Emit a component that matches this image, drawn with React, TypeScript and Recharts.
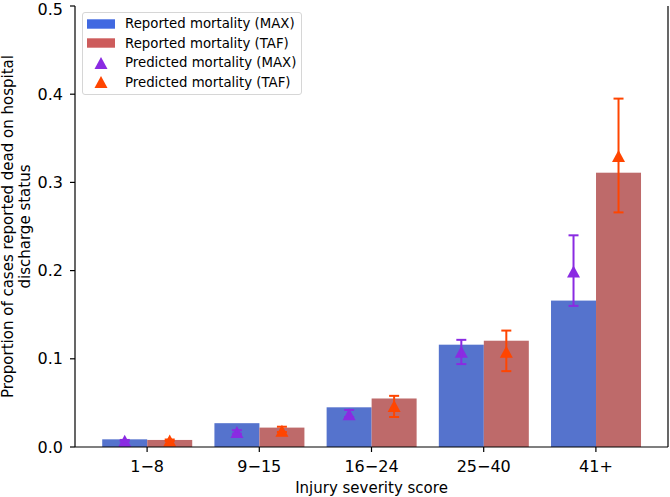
import React from 'react';
import { ComposedChart, Bar, XAxis, YAxis, ErrorBar, Legend } from 'recharts';

const categories = ['1\u22128', '9\u221215', '16\u221224', '25\u221240', '41+'];
const reportedMax = [0.0087, 0.027, 0.045, 0.116, 0.166];
const reportedTaf = [0.008, 0.022, 0.055, 0.1205, 0.311];
const predictedMax = [0.0072, 0.017, 0.037, 0.108, 0.199];
const predictedMaxLow = [0.0065, 0.015, 0.034, 0.094, 0.160];
const predictedMaxHigh = [0.008, 0.019, 0.042, 0.1215, 0.240];
const predictedTaf = [0.0075, 0.0185, 0.0465, 0.108, 0.330];
const predictedTafLow = [0.0068, 0.017, 0.034, 0.086, 0.266];
const predictedTafHigh = [0.0085, 0.023, 0.058, 0.132, 0.395];
const yTicks = [0, 0.1, 0.2, 0.3, 0.4, 0.5];
const legendLabels = [
  'Reported mortality (MAX)',
  'Reported mortality (TAF)',
  'Predicted mortality (MAX)',
  'Predicted mortality (TAF)',
];

const FONT = '"DejaVu Sans", sans-serif';
const BLUE_BAR = '#5573cd';
const RED_BAR = '#be6a6a';
const BLUE_LEG = '#4169e1';
const RED_LEG = '#cd5c5c';
const PURPLE = '#8a2be2';
const ORANGE = '#ff4500';

const data = categories.map((c, i) => ({
  cat: c,
  repMax: reportedMax[i],
  repTaf: reportedTaf[i],
  predMax: predictedMax[i],
  predTaf: predictedTaf[i],
  errMax: [reportedMax[i] - predictedMaxLow[i], predictedMaxHigh[i] - reportedMax[i]],
  errTaf: [reportedTaf[i] - predictedTafLow[i], predictedTafHigh[i] - reportedTaf[i]],
}));

const tri = (cx: number, cy: number, w: number, h: number) =>
  `M${cx},${cy - h / 2} L${cx - w / 2},${cy + h / 2} L${cx + w / 2},${cy + h / 2} Z`;

const makeShape = (valKey: string, predKey: string, color: string) => (props: any) => {
  const { x, y, width, height, fill, payload } = props;
  const v = payload[valKey];
  const base = y + height;
  const ppu = height / v;
  const py = base - payload[predKey] * ppu;
  const cx = x + width / 2;
  return (
    <g>
      <rect x={x} y={y} width={width} height={height} fill={fill} />
      <path d={tri(cx, py, 13, 12)} fill={color} />
    </g>
  );
};

const LegendBox = () => (
  <div
    style={{
      width: 218,
      height: 80,
      border: '1px solid #d6d6d6',
      borderRadius: 3,
      background: 'rgba(255,255,255,0.8)',
      fontFamily: FONT,
      fontSize: 13.3,
      color: '#000',
      paddingTop: 1,
      boxSizing: 'content-box',
    }}
  >
    {legendLabels.map((lab, i) => (
      <div key={lab} style={{ display: 'flex', alignItems: 'center', height: 19.5 }}>
        <svg width={28} height={14} style={{ marginLeft: 4, flexShrink: 0 }}>
          {i < 2 ? (
            <rect x={0} y={2.3} width={28} height={9.4} fill={i === 0 ? BLUE_LEG : RED_LEG} />
          ) : (
            <path d={tri(14, 7, 13, 12)} fill={i === 2 ? PURPLE : ORANGE} />
          )}
        </svg>
        <span style={{ marginLeft: 10, whiteSpace: 'nowrap' }}>{lab}</span>
      </div>
    ))}
  </div>
);

const YLabel = (p: any) => {
  const vb = p.viewBox || {};
  const cy = vb.y + vb.height / 2;
  return (
    <g transform={`translate(0, ${cy}) rotate(-90)`}>
      <text textAnchor="middle" fontFamily={FONT} fontSize={15} fill="#000">
        <tspan x={0} y={13}>Proportion of cases reported dead on hospital</tspan>
        <tspan x={0} y={30}>discharge status</tspan>
      </text>
    </g>
  );
};

const XLabel = (p: any) => {
  const vb = p.viewBox || {};
  return (
    <text x={vb.x + vb.width / 2} y={vb.y + 45.5} textAnchor="middle" fontFamily={FONT} fontSize={15} fill="#000">
      Injury severity score
    </text>
  );
};

export default function App() {
  return (
    <div style={{ position: 'absolute', left: 0, top: 0, width: 670, height: 497, background: '#fff' }}>
      <ComposedChart
        width={670}
        height={497}
        data={data}
        margin={{ top: 6, right: 0, left: 0, bottom: 0 }}
        barCategoryGap="10%"
        barGap={0}
      >
        <XAxis
          dataKey="cat"
          height={50}
          padding={{ left: 16, right: 16 }}
          tickSize={5}
          tickMargin={9}
          axisLine={{ stroke: '#000', strokeWidth: 1.2 }}
          tickLine={{ stroke: '#000', strokeWidth: 1.2 }}
          tick={{ fill: '#000', fontSize: 16, fontFamily: FONT }}
          label={{ content: XLabel }}
        />
        <YAxis
          width={75}
          domain={[0, 0.5]}
          ticks={yTicks}
          tickFormatter={(v: number) => v.toFixed(1)}
          tickSize={5}
          tickMargin={7}
          allowDataOverflow
          axisLine={{ stroke: '#000', strokeWidth: 1.2 }}
          tickLine={{ stroke: '#000', strokeWidth: 1.2 }}
          tick={{ fill: '#000', fontSize: 16, fontFamily: FONT }}
          label={{ content: YLabel }}
        />
        <YAxis
          yAxisId="r"
          orientation="right"
          width={2}
          domain={[0, 0.5]}
          tick={false}
          tickLine={false}
          axisLine={{ stroke: '#000', strokeWidth: 1.2 }}
        />
        <Legend
          layout="vertical"
          align="center"
          verticalAlign="middle"
          wrapperStyle={{ left: 82, top: 12, width: 220, height: 83 }}
          content={() => <LegendBox />}
        />
        <Bar
          dataKey="repMax"
          name={legendLabels[0]}
          fill={BLUE_BAR}
          isAnimationActive={false}
          shape={makeShape('repMax', 'predMax', PURPLE)}
        >
          <ErrorBar dataKey="errMax" width={5} stroke={PURPLE} strokeWidth={2} direction="y" />
        </Bar>
        <Bar
          dataKey="repTaf"
          name={legendLabels[1]}
          fill={RED_BAR}
          isAnimationActive={false}
          shape={makeShape('repTaf', 'predTaf', ORANGE)}
        >
          <ErrorBar dataKey="errTaf" width={5} stroke={ORANGE} strokeWidth={2} direction="y" />
        </Bar>
      </ComposedChart>
    </div>
  );
}
